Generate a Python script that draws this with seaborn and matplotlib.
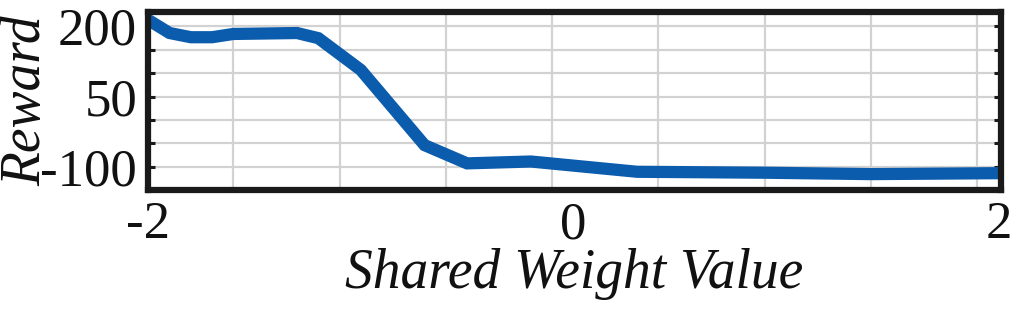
import matplotlib
matplotlib.use("Agg")
import matplotlib.pyplot as plt
import seaborn as sns
import pandas as pd
import numpy as np

# ---- data ----
weight_values = [-2.0, -1.9, -1.8, -1.7, -1.6, -1.3, -1.2, -1.0, -0.7, -0.5, -0.2, 0.3, 0.9, 1.4, 2.0]
rewards = [214, 186, 177, 177, 184, 186, 175, 107, -54, -93, -89, -111, -113, -116, -114]
x_tick_labels = ["-2", "0", "2"]
x_ticks = [-2, 0, 2]
y_ticks = [200, 50, -100]
y_tick_labels = ["200", "50", "-100"]
x_grid = [-1.6, -1.1, -0.6, -0.1, 0.4, 0.9, 1.4, 1.9]
y_grid = [200, 150, 100, 50, 0, -50, -100]

sns.set_style("white")
plt.rcParams['font.family'] = ['Liberation Serif', 'DejaVu Serif']
plt.rcParams['text.color'] = '#111111'
plt.rcParams['xtick.color'] = '#111111'
plt.rcParams['ytick.color'] = '#111111'
plt.rcParams['axes.labelcolor'] = '#111111'

df = pd.DataFrame({"Shared Weight Value": weight_values, "Reward": rewards})

fig = plt.figure(figsize=(10.24, 3.12), dpi=100)
ax = fig.add_axes([148.3 / 1024, 1 - 190 / 312, (1000.5 - 148.3) / 1024, (190 - 12) / 312])

ax.set_xlim(-2, 2.01)
ax.set_ylim(-150, 231)

# grid lines
for gx in x_grid:
    ax.axvline(gx, color="#d2d2d2", lw=1.6, zorder=0)
for gy in y_grid:
    ax.axhline(gy, color="#d2d2d2", lw=1.6, zorder=0)

sns.lineplot(data=df, x="Shared Weight Value", y="Reward", ax=ax,
             color="#0b5cad", lw=8.8, solid_joinstyle="miter", zorder=3)

ax.set_xticks(x_ticks)
ax.set_xticklabels(x_tick_labels, fontsize=38, family=['Liberation Serif'])
ax.set_yticks(y_ticks)
ax.set_yticklabels(y_tick_labels, fontsize=38, family=['Liberation Serif'])
ax.set_yticks(y_grid, minor=True)
ax.tick_params(axis="x", which="both", length=0, pad=8)
ax.tick_params(axis="y", which="both", direction="in", length=5, width=2.2,
               left=True, right=True, pad=8, color="#1a1a1a")

for s in ax.spines.values():
    s.set_linewidth(4.5)
    s.set_color("#1a1a1a")
    s.set_visible(True)
    s.set_zorder(5)

ax.set_xlabel("Shared Weight Value", fontsize=40, style="italic", family=['Liberation Serif'])
ax.set_ylabel("Reward", fontsize=40, style="italic", family=['Liberation Serif'])
ax.xaxis.set_label_coords(0.5, -0.325)
ax.yaxis.set_label_coords(-0.113, 0.5)

fig.savefig("out.png", dpi=100)
